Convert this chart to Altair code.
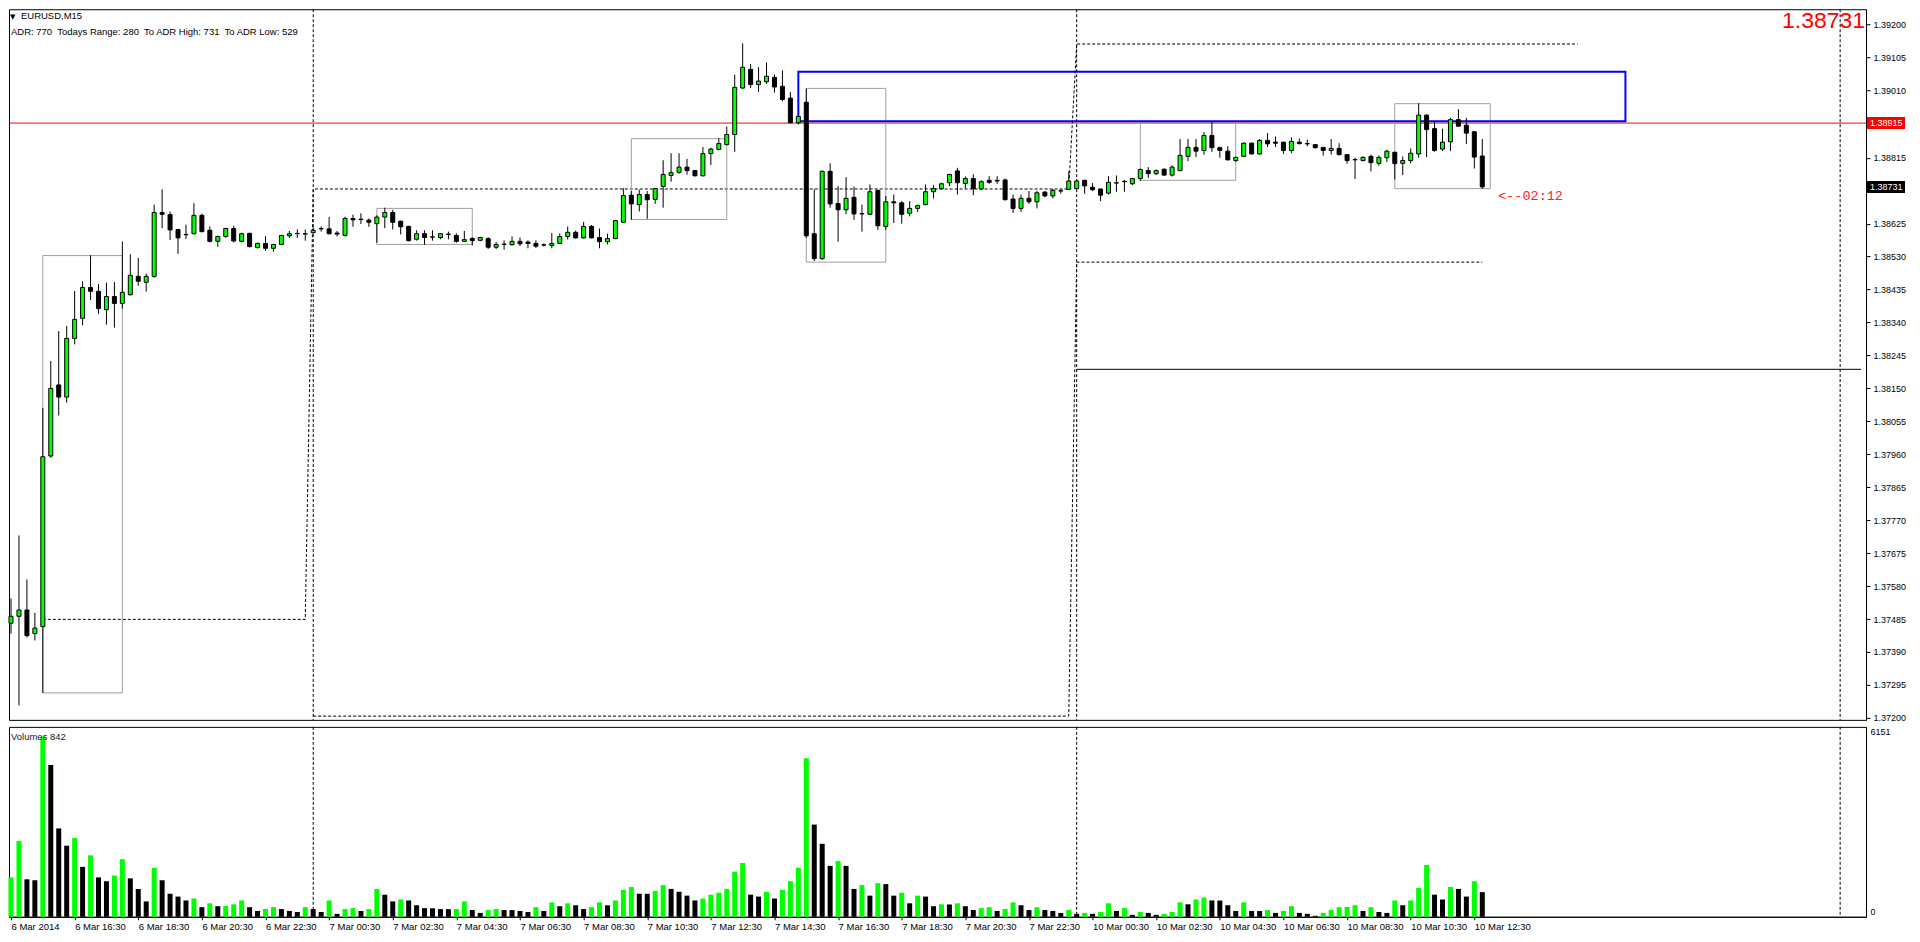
import json
import altair as alt
import pandas as pd

# ---------------- data (EURUSD M15) ----------------
OPEN = [
    1.37473, 1.37493, 1.37511, 1.37443, 1.37463, 1.37955, 1.38160, 1.38125, 1.38294, 1.38352,
    1.38441, 1.38430, 1.38377, 1.38415, 1.38395, 1.38420, 1.38473, 1.38456, 1.38473, 1.38657,
    1.38651, 1.38608, 1.38593, 1.38596, 1.38649, 1.38606, 1.38574, 1.38588, 1.38611, 1.38574,
    1.38597, 1.38556, 1.38568, 1.38554, 1.38565, 1.38590, 1.38596, 1.38595, 1.38599, 1.38610,
    1.38610, 1.38598, 1.38591, 1.38640, 1.38637, 1.38635, 1.38625, 1.38644, 1.38657, 1.38632,
    1.38617, 1.38580, 1.38596, 1.38586, 1.38585, 1.38594, 1.38591, 1.38574, 1.38582, 1.38577,
    1.38582, 1.38557, 1.38565, 1.38564, 1.38574, 1.38572, 1.38568, 1.38563, 1.38562, 1.38568,
    1.38588, 1.38600, 1.38584, 1.38617, 1.38585, 1.38573, 1.38582, 1.38629, 1.38707, 1.38680,
    1.38709, 1.38695, 1.38732, 1.38764, 1.38773, 1.38788, 1.38778, 1.38763, 1.38827, 1.38839,
    1.38853, 1.38882, 1.39016, 1.39070, 1.39026, 1.39034, 1.39047, 1.39021, 1.38987, 1.38916,
    1.38975, 1.38596, 1.38524, 1.38776, 1.38683, 1.38665, 1.38701, 1.38654, 1.38652, 1.38721,
    1.38617, 1.38688, 1.38685, 1.38655, 1.38669, 1.38680, 1.38717, 1.38726, 1.38743, 1.38777,
    1.38741, 1.38755, 1.38725, 1.38750, 1.38750, 1.38751, 1.38696, 1.38669, 1.38698, 1.38688,
    1.38716, 1.38705, 1.38719, 1.38724, 1.38726, 1.38750, 1.38730, 1.38725, 1.38713, 1.38742,
    1.38746, 1.38740, 1.38755, 1.38778, 1.38769, 1.38782, 1.38765, 1.38778, 1.38819, 1.38845,
    1.38836, 1.38879, 1.38844, 1.38834, 1.38807, 1.38819, 1.38857, 1.38826, 1.38865, 1.38860,
    1.38860, 1.38836, 1.38860, 1.38855, 1.38853, 1.38845, 1.38836, 1.38842, 1.38824, 1.38809,
    1.38807, 1.38819, 1.38799, 1.38815, 1.38831, 1.38799, 1.38807, 1.38826, 1.38938, 1.38899,
    1.38840, 1.38861, 1.38925, 1.38909, 1.38890, 1.38820,
]
HIGH = [
    1.37544, 1.37726, 1.37599, 1.37503, 1.38094, 1.38229, 1.38315, 1.38330, 1.38431, 1.38459,
    1.38534, 1.38451, 1.38455, 1.38457, 1.38574, 1.38537, 1.38526, 1.38481, 1.38680, 1.38724,
    1.38660, 1.38610, 1.38622, 1.38684, 1.38654, 1.38617, 1.38590, 1.38613, 1.38619, 1.38599,
    1.38599, 1.38571, 1.38589, 1.38567, 1.38593, 1.38604, 1.38609, 1.38608, 1.38614, 1.38617,
    1.38644, 1.38604, 1.38645, 1.38651, 1.38655, 1.38640, 1.38649, 1.38671, 1.38665, 1.38634,
    1.38619, 1.38606, 1.38606, 1.38606, 1.38598, 1.38602, 1.38597, 1.38604, 1.38586, 1.38587,
    1.38586, 1.38572, 1.38577, 1.38588, 1.38585, 1.38577, 1.38577, 1.38568, 1.38598, 1.38597,
    1.38617, 1.38605, 1.38630, 1.38621, 1.38611, 1.38596, 1.38636, 1.38727, 1.38719, 1.38723,
    1.38719, 1.38728, 1.38808, 1.38828, 1.38828, 1.38812, 1.38780, 1.38846, 1.38844, 1.38871,
    1.38905, 1.39055, 1.39145, 1.39085, 1.39076, 1.39090, 1.39055, 1.39067, 1.39004, 1.38936,
    1.39015, 1.38724, 1.38778, 1.38799, 1.38733, 1.38759, 1.38732, 1.38680, 1.38738, 1.38722,
    1.38705, 1.38709, 1.38690, 1.38690, 1.38680, 1.38738, 1.38736, 1.38743, 1.38767, 1.38786,
    1.38761, 1.38767, 1.38750, 1.38762, 1.38762, 1.38755, 1.38709, 1.38709, 1.38719, 1.38719,
    1.38719, 1.38725, 1.38725, 1.38776, 1.38752, 1.38751, 1.38742, 1.38725, 1.38762, 1.38764,
    1.38751, 1.38757, 1.38784, 1.38788, 1.38781, 1.38784, 1.38793, 1.38869, 1.38869, 1.38869,
    1.38889, 1.38918, 1.38847, 1.38848, 1.38819, 1.38859, 1.38859, 1.38869, 1.38886, 1.38876,
    1.38860, 1.38874, 1.38870, 1.38867, 1.38853, 1.38845, 1.38869, 1.38857, 1.38824, 1.38815,
    1.38819, 1.38824, 1.38822, 1.38838, 1.38831, 1.38819, 1.38842, 1.38972, 1.38940, 1.38921,
    1.38899, 1.38930, 1.38955, 1.38930, 1.38890, 1.38869,
]
LOW = [
    1.37443, 1.37236, 1.37432, 1.37423, 1.37272, 1.37950, 1.38072, 1.38109, 1.38277, 1.38332,
    1.38405, 1.38365, 1.38334, 1.38325, 1.38380, 1.38418, 1.38446, 1.38429, 1.38469, 1.38612,
    1.38578, 1.38538, 1.38581, 1.38594, 1.38600, 1.38571, 1.38558, 1.38584, 1.38571, 1.38571,
    1.38556, 1.38554, 1.38547, 1.38544, 1.38563, 1.38584, 1.38584, 1.38576, 1.38596, 1.38602,
    1.38594, 1.38588, 1.38588, 1.38616, 1.38624, 1.38616, 1.38570, 1.38612, 1.38608, 1.38594,
    1.38574, 1.38576, 1.38564, 1.38576, 1.38580, 1.38580, 1.38570, 1.38572, 1.38562, 1.38574,
    1.38552, 1.38552, 1.38550, 1.38563, 1.38560, 1.38554, 1.38555, 1.38559, 1.38554, 1.38566,
    1.38579, 1.38582, 1.38582, 1.38582, 1.38554, 1.38565, 1.38580, 1.38627, 1.38636, 1.38660,
    1.38639, 1.38682, 1.38671, 1.38746, 1.38769, 1.38766, 1.38761, 1.38761, 1.38794, 1.38836,
    1.38851, 1.38832, 1.39014, 1.39016, 1.39005, 1.39028, 1.39003, 1.38978, 1.38915, 1.38911,
    1.38584, 1.38517, 1.38521, 1.38671, 1.38573, 1.38652, 1.38636, 1.38602, 1.38650, 1.38607,
    1.38607, 1.38627, 1.38625, 1.38646, 1.38659, 1.38678, 1.38698, 1.38724, 1.38733, 1.38709,
    1.38726, 1.38707, 1.38721, 1.38740, 1.38740, 1.38692, 1.38656, 1.38659, 1.38682, 1.38669,
    1.38701, 1.38698, 1.38711, 1.38723, 1.38724, 1.38711, 1.38719, 1.38690, 1.38709, 1.38717,
    1.38717, 1.38736, 1.38748, 1.38757, 1.38765, 1.38763, 1.38761, 1.38776, 1.38805, 1.38817,
    1.38824, 1.38832, 1.38815, 1.38807, 1.38803, 1.38817, 1.38824, 1.38824, 1.38846, 1.38846,
    1.38826, 1.38828, 1.38853, 1.38848, 1.38842, 1.38821, 1.38824, 1.38822, 1.38798, 1.38754,
    1.38805, 1.38776, 1.38792, 1.38803, 1.38753, 1.38765, 1.38799, 1.38815, 1.38817, 1.38832,
    1.38834, 1.38834, 1.38906, 1.38855, 1.38784, 1.38726,
]
CLOSE = [
    1.37493, 1.37511, 1.37437, 1.37459, 1.37953, 1.38150, 1.38125, 1.38294, 1.38349, 1.38441,
    1.38430, 1.38380, 1.38415, 1.38395, 1.38427, 1.38476, 1.38459, 1.38473, 1.38657, 1.38652,
    1.38607, 1.38584, 1.38594, 1.38649, 1.38602, 1.38574, 1.38588, 1.38611, 1.38575, 1.38596,
    1.38559, 1.38568, 1.38554, 1.38565, 1.38591, 1.38596, 1.38597, 1.38596, 1.38606, 1.38611,
    1.38596, 1.38595, 1.38640, 1.38636, 1.38638, 1.38629, 1.38644, 1.38657, 1.38629, 1.38616,
    1.38576, 1.38596, 1.38585, 1.38587, 1.38596, 1.38595, 1.38574, 1.38579, 1.38576, 1.38585,
    1.38557, 1.38565, 1.38566, 1.38574, 1.38567, 1.38568, 1.38560, 1.38564, 1.38568, 1.38588,
    1.38600, 1.38584, 1.38617, 1.38584, 1.38573, 1.38582, 1.38634, 1.38706, 1.38682, 1.38709,
    1.38694, 1.38726, 1.38767, 1.38772, 1.38788, 1.38778, 1.38763, 1.38827, 1.38840, 1.38856,
    1.38882, 1.39018, 1.39076, 1.39026, 1.39036, 1.39050, 1.39019, 1.38983, 1.38916, 1.38934,
    1.38590, 1.38524, 1.38776, 1.38682, 1.38665, 1.38698, 1.38653, 1.38653, 1.38717, 1.38619,
    1.38688, 1.38685, 1.38652, 1.38669, 1.38677, 1.38717, 1.38726, 1.38740, 1.38767, 1.38743,
    1.38755, 1.38726, 1.38746, 1.38744, 1.38748, 1.38694, 1.38669, 1.38698, 1.38688, 1.38714,
    1.38705, 1.38721, 1.38720, 1.38748, 1.38748, 1.38734, 1.38723, 1.38707, 1.38744, 1.38743,
    1.38747, 1.38755, 1.38781, 1.38769, 1.38778, 1.38765, 1.38788, 1.38822, 1.38845, 1.38834,
    1.38879, 1.38844, 1.38836, 1.38809, 1.38816, 1.38857, 1.38826, 1.38865, 1.38855, 1.38857,
    1.38836, 1.38862, 1.38856, 1.38856, 1.38844, 1.38836, 1.38842, 1.38824, 1.38807, 1.38810,
    1.38816, 1.38801, 1.38816, 1.38834, 1.38798, 1.38807, 1.38828, 1.38938, 1.38896, 1.38836,
    1.38860, 1.38925, 1.38906, 1.38886, 1.38817, 1.38731,
]
VOLUME = [
    1346, 2594, 1281, 1248, 6151, 5188, 3021, 2430, 2692, 1707,
    2101, 1346, 1215, 1412, 1970, 1313, 952, 525, 1675, 1248,
    788, 690, 558, 624, 328, 460, 361, 370, 427, 558,
    328, 197, 263, 328, 263, 197, 164, 328, 263, 164,
    558, 99, 263, 296, 197, 263, 952, 755, 525, 591,
    558, 394, 296, 290, 263, 260, 265, 525, 230, 131,
    230, 263, 230, 228, 197, 164, 328, 197, 493, 361,
    460, 394, 263, 328, 493, 394, 558, 919, 1018, 788,
    785, 887, 1084, 952, 854, 722, 558, 624, 755, 821,
    952, 1543, 1839, 755, 690, 854, 624, 919, 1215, 1675,
    5418, 3152, 2495, 1740, 1904, 1740, 952, 1084, 722, 1149,
    1116, 722, 821, 460, 722, 690, 361, 427, 420, 460,
    361, 230, 296, 328, 197, 263, 493, 394, 230, 328,
    230, 197, 131, 230, 99, 131, 99, 164, 460, 197,
    296, 66, 164, 131, 66, 99, 164, 493, 427, 591,
    657, 558, 555, 394, 197, 493, 197, 195, 230, 131,
    197, 361, 131, 99, 33, 131, 230, 328, 335, 394,
    197, 328, 164, 131, 558, 394, 558, 985, 1773, 755,
    591, 1018, 952, 690, 1215, 842,
]
X_LABELS = [
    "6 Mar 2014", "6 Mar 16:30", "6 Mar 18:30", "6 Mar 20:30", "6 Mar 22:30",
    "7 Mar 00:30", "7 Mar 02:30", "7 Mar 04:30", "7 Mar 06:30", "7 Mar 08:30",
    "7 Mar 10:30", "7 Mar 12:30", "7 Mar 14:30", "7 Mar 16:30", "7 Mar 18:30",
    "7 Mar 20:30", "7 Mar 22:30", "10 Mar 00:30", "10 Mar 02:30", "10 Mar 04:30",
    "10 Mar 06:30", "10 Mar 08:30", "10 Mar 10:30", "10 Mar 12:30",
]
X_LABEL_BARS = [0, 8, 16, 24, 32, 40, 48, 56, 64, 72, 80, 88, 96, 104, 112,
                120, 128, 136, 144, 152, 160, 168, 176, 184]
PRICE_TICKS = [1.39200, 1.39105, 1.39010, 1.38815, 1.38625, 1.38530,
               1.38435, 1.38340, 1.38245, 1.38150, 1.38055, 1.37960, 1.37865,
               1.37770, 1.37675, 1.37580, 1.37485, 1.37390, 1.37295, 1.37200]
VOLUME_TICKS = [0, 6151]
DAY_STARTS = [38, 134, 230]
RED_LEVEL = 1.38915
BLACK_LEVEL = 1.38205
BLACK_LEVEL_FROM = 134
LAST_PRICE = 1.38731
LAST_VOLUME = 842
BOX_X0 = [4, 46, 78, 100, 142, 174]
BOX_X1 = [14, 58, 90, 110, 154, 186]
BOX_LO = [1.37272, 1.38565, 1.38637, 1.38514, 1.38750, 1.38726]
BOX_HI = [1.38533, 1.38669, 1.38870, 1.39015, 1.38915, 1.38971]
BLUE_X = [99, 203]
BLUE_Y = [1.38920, 1.39063]
UPPER_X = [4, 37, 38, 133, 134, 197]
UPPER_Y = [1.37484, 1.37484, 1.38725, 1.38725, 1.39143, 1.39143]
LOWER_X = [38, 133, 134, 185]
LOWER_Y = [1.37205, 1.37205, 1.38514, 1.38514]
TIMER_TEXT = "<--02:12"
TIMER_AT = [187, 1.38704]
HEADER_1 = "EURUSD,M15"
HEADER_2 = "ADR: 770\u00a0 Todays Range: 280\u00a0 To ADR High: 731\u00a0 To ADR Low: 529"

n = len(OPEN)
assert len(HIGH) == n and len(LOW) == n and len(CLOSE) == n and len(VOLUME) == n

bars = pd.DataFrame({"bar": list(range(n)), "open": OPEN, "high": HIGH,
                     "low": LOW, "close": CLOSE, "volume": VOLUME})
bars["dir"] = ["up" if c >= o else "down" for o, c in zip(OPEN, CLOSE)]
bars["vdir"] = ["up"] + ["up" if VOLUME[i] > VOLUME[i - 1] else "down" for i in range(1, n)]

# ---------------- layout ----------------
W = 1858
H_PRICE = 711
H_VOL = 190
FONT = "Liberation Sans"

xs = alt.Scale(domain=[0.375, 232.625], nice=False, zero=False)
ys = alt.Scale(domain=[1.3719424, 1.3924323], nice=False, zero=False)
vs = alt.Scale(domain=[0, 6151 * 190 / 180], nice=False, zero=True)
dir_scale = alt.Scale(domain=["up", "down"], range=["#00ff00", "#000000"])

# the same axis objects are given to every layer so the layers merge into one axis
price_axis = alt.Axis(orient="right", values=PRICE_TICKS, format=".5f", tickSize=4,
                      labelPadding=3, title=None, labelOverlap=False, grid=False,
                      labelFontSize=9, labelFont=FONT, labelColor="black")
time_axis = alt.Axis(values=X_LABEL_BARS, labelExpr="%s[round(datum.value / 8)]" % json.dumps(X_LABELS),
                     labelAlign="left", labelBaseline="top", labelPadding=2, tickSize=3,
                     labelFlush=False, labelOverlap=False, title=None, grid=False,
                     labelFontSize=9.5, labelFont=FONT, labelColor="black")
vol_axis = alt.Axis(orient="right", values=VOLUME_TICKS, format="d", ticks=False, labelPadding=4,
                    labelBaseline="bottom", title=None, grid=False, labelOverlap=False,
                    labelFontSize=9, labelFont=FONT, labelColor="black")


def XP(f):
    return alt.X(f, type="quantitative", scale=xs, axis=None)


def YP(f):
    return alt.Y(f, type="quantitative", scale=ys, axis=price_axis)


def XV(f):
    return alt.X(f, type="quantitative", scale=xs, axis=time_axis)


one = pd.DataFrame({"k": [0]})

red_line = alt.Chart(pd.DataFrame({"p": [RED_LEVEL]})).mark_rule(
    color="#ff0000", strokeWidth=1).encode(y=YP("p"))
black_line = alt.Chart(pd.DataFrame({"a": [BLACK_LEVEL_FROM], "b": [232.625], "p": [BLACK_LEVEL]})).mark_rule(
    color="black", strokeWidth=1).encode(x=XP("a"), x2="b:Q", y=YP("p"))
seps_df = pd.DataFrame({"bar": DAY_STARTS})
seps_price = alt.Chart(seps_df).mark_rule(color="black", strokeWidth=1, strokeDash=[3, 2]).encode(x=XP("bar"))

lines_df = pd.DataFrame({
    "bar": UPPER_X + LOWER_X,
    "p": UPPER_Y + LOWER_Y,
    "g": ["u"] * len(UPPER_X) + ["l"] * len(LOWER_X),
})
range_lines = alt.Chart(lines_df).mark_line(color="black", strokeWidth=1, strokeDash=[3, 2]).encode(
    x=XP("bar"), y=YP("p"), detail="g:N")

boxes_df = pd.DataFrame({"x0": BOX_X0, "x1": BOX_X1, "lo": BOX_LO, "hi": BOX_HI})
boxes = alt.Chart(boxes_df).mark_rect(fill="transparent", stroke="#a0a0a0", strokeWidth=1).encode(
    x=XP("x0"), x2="x1:Q", y=YP("lo"), y2="hi:Q")
blue_df = pd.DataFrame({"x0": [BLUE_X[0]], "x1": [BLUE_X[1]], "lo": [BLUE_Y[0]], "hi": [BLUE_Y[1]]})
blue_box = alt.Chart(blue_df).mark_rect(fill="transparent", stroke="#0000ff", strokeWidth=2).encode(
    x=XP("x0"), x2="x1:Q", y=YP("lo"), y2="hi:Q")

wicks = alt.Chart(bars).mark_rule(color="black", strokeWidth=1).encode(
    x=XP("bar"), y=YP("low"), y2="high:Q")
bodies = alt.Chart(bars).mark_bar(size=4, stroke="black", strokeWidth=1).encode(
    x=XP("bar"), y=YP("open"), y2="close:Q",
    color=alt.Color("dir:N", scale=dir_scale, legend=None))

tri = alt.Chart(one).mark_text(text="▼", font="DejaVu Sans", fontSize=7, align="left",
                               baseline="middle", color="black").encode(
    x=alt.value(1), y=alt.value(8))
head1 = alt.Chart(one).mark_text(text=HEADER_1, font=FONT, fontSize=9.5, align="left",
                                 baseline="middle", color="black").encode(
    x=alt.value(12), y=alt.value(7))
head2 = alt.Chart(one).mark_text(text=HEADER_2, font=FONT, fontSize=9.5, align="left",
                                 baseline="middle", color="black").encode(
    x=alt.value(2), y=alt.value(22.5))
big_price = alt.Chart(pd.DataFrame({"t": ["%.5f" % LAST_PRICE]})).mark_text(
    font=FONT, fontSize=23, align="right", baseline="alphabetic", color="#ff0000").encode(
    x=alt.value(W - 1), y=alt.value(19), text="t:N")
timer = alt.Chart(pd.DataFrame({"bar": [TIMER_AT[0]], "p": [TIMER_AT[1]], "t": [TIMER_TEXT]})).mark_text(
    font="Liberation Mono", fontSize=13.5, align="left", baseline="middle", color="#ff2020").encode(
    x=XP("bar"), y=YP("p"), text="t:N")

red_tag_df = pd.DataFrame({"p": [RED_LEVEL], "t": ["%.5f" % RED_LEVEL]})
last_tag_df = pd.DataFrame({"p": [LAST_PRICE], "t": ["%.5f" % LAST_PRICE]})
red_tag = alt.Chart(red_tag_df).mark_rule(strokeWidth=12, strokeCap="butt", color="#ff0000").encode(
    x=alt.value(W + 1), x2=alt.value(W + 39), y=YP("p"))
last_tag = alt.Chart(last_tag_df).mark_rule(strokeWidth=12, strokeCap="butt", color="#000000").encode(
    x=alt.value(W + 1), x2=alt.value(W + 39), y=YP("p"))
red_tag_text = alt.Chart(red_tag_df).mark_text(font=FONT, fontSize=9, align="left", baseline="middle",
                                               color="white").encode(
    x=alt.value(W + 4), y=YP("p"), text="t:N")
last_tag_text = alt.Chart(last_tag_df).mark_text(font=FONT, fontSize=9, align="left", baseline="middle",
                                                 color="white").encode(
    x=alt.value(W + 4), y=YP("p"), text="t:N")

price = alt.layer(
    red_line, black_line, seps_price, range_lines, boxes, blue_box, wicks, bodies,
    tri, head1, head2, big_price, timer, red_tag, last_tag, red_tag_text, last_tag_text,
).properties(width=W, height=H_PRICE)

# ---------------- volume pane ----------------
vol_bars = alt.Chart(bars).mark_bar(size=5).encode(
    x=XV("bar"),
    y=alt.Y("volume:Q", scale=vs, axis=vol_axis),
    color=alt.Color("vdir:N", scale=dir_scale, legend=None))
seps_vol = alt.Chart(seps_df).mark_rule(color="black", strokeWidth=1, strokeDash=[3, 2]).encode(x=XV("bar"))
vol_title = alt.Chart(pd.DataFrame({"t": ["Volumes %d" % LAST_VOLUME]})).mark_text(
    font=FONT, fontSize=9.5, align="left", baseline="middle", color="#202020").encode(
    x=alt.value(2), y=alt.value(10), text="t:N")

vol = alt.layer(seps_vol, vol_bars, vol_title).properties(width=W, height=H_VOL)

chart = alt.vconcat(price, vol, spacing=2).properties(padding=0, background="white")
chart = chart.configure_view(stroke="black", strokeWidth=1).configure_axis(
    grid=False, labelFont=FONT, labelFontSize=9, labelColor="black",
    domainColor="black", tickColor="black")

chart.save("out.html", embed_options={"renderer": "svg", "actions": False})
